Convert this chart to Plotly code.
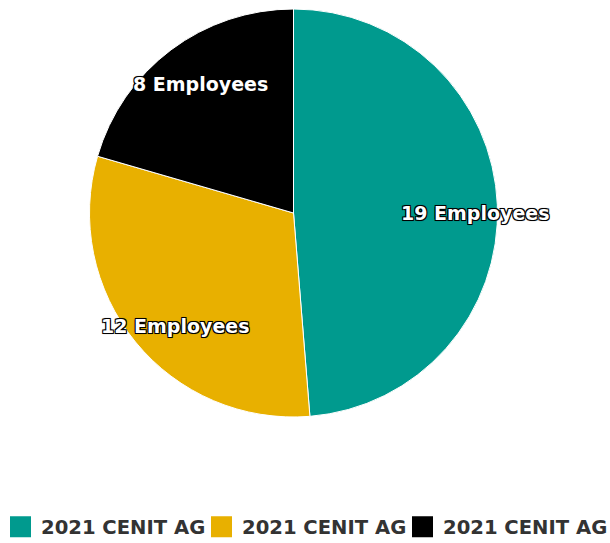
import math
import plotly.graph_objects as go

# Head count per company slice
companies = ["2021 CENIT AG", "2021 CENIT AG", "2021 CENIT AG"]
employees = [19, 12, 8]
slice_colors = ["#009a8e", "#e8b000", "#000000"]

W, H = 610, 543
CX, CY, R = 293.5, 213.0, 204.0          # pie centre / radius in px (from top-left)
label_radius = [0.89, 0.80, 0.78]         # radial placement of the value labels
label_shift_deg = [2.3, -4.4, 1.3]        # angular nudge of the value labels
legend_step = 201                          # px between legend entries

fig = go.Figure()

fig.add_trace(go.Pie(
    labels=[f"slice {i}" for i in range(len(employees))],
    values=employees,
    marker=dict(colors=slice_colors, line=dict(color="#ffffff", width=1)),
    sort=False,
    direction="clockwise",
    rotation=0,
    textinfo="none",
    hoverinfo="skip",
    showlegend=False,
    domain=dict(x=[(CX - R) / W, (CX + R) / W], y=[1 - (CY + R) / H, 1 - (CY - R) / H]),
))

legend_font = dict(family="DejaVu Sans", size=19.6, color="#333333", weight="bold")
legend_ids = ["legend", "legend2", "legend3"]
legend_layouts = {}

# one legend box per entry, each with a square swatch
for i, (name, col) in enumerate(zip(companies, slice_colors)):
    fig.add_trace(go.Scatter(
        x=[None], y=[None], mode="markers", name=name,
        marker=dict(symbol="square", size=16, color=col, line=dict(color=col, width=5)),
        showlegend=True, legend=legend_ids[i],
    ))
    legend_layouts[legend_ids[i]] = dict(
        orientation="h", x=i * legend_step / W, xanchor="left",
        y=1 - 527 / H, yanchor="middle",
        font=legend_font, itemsizing="trace", itemwidth=31,
        bgcolor="rgba(0,0,0,0)",
    )

# value labels placed around each slice's mid-angle
total = sum(employees)
cum = 0
for v, rf, dth in zip(employees, label_radius, label_shift_deg):
    mid = (cum + v / 2) / total * 2 * math.pi + math.radians(dth)
    cum += v
    px = CX + rf * R * math.sin(mid)
    py = CY - rf * R * math.cos(mid)
    fig.add_annotation(
        x=px / W, y=1 - py / H, xref="paper", yref="paper",
        text=f"<b>{v} Employees</b>", showarrow=False,
        font=dict(family="DejaVu Sans", size=19, color="#ffffff",
                  shadow="-1px -1px 0 #000, 1px -1px 0 #000, -1px 1px 0 #000, 1px 1px 0 #000, 0 0 2px #000"),
        xanchor="center", yanchor="middle",
    )

fig.update_layout(
    width=W, height=H,
    margin=dict(l=0, r=0, t=0, b=0, autoexpand=False),
    paper_bgcolor="#ffffff", plot_bgcolor="#ffffff",
    xaxis=dict(visible=False), yaxis=dict(visible=False),
    **legend_layouts,
)

fig.write_html("out.html")
